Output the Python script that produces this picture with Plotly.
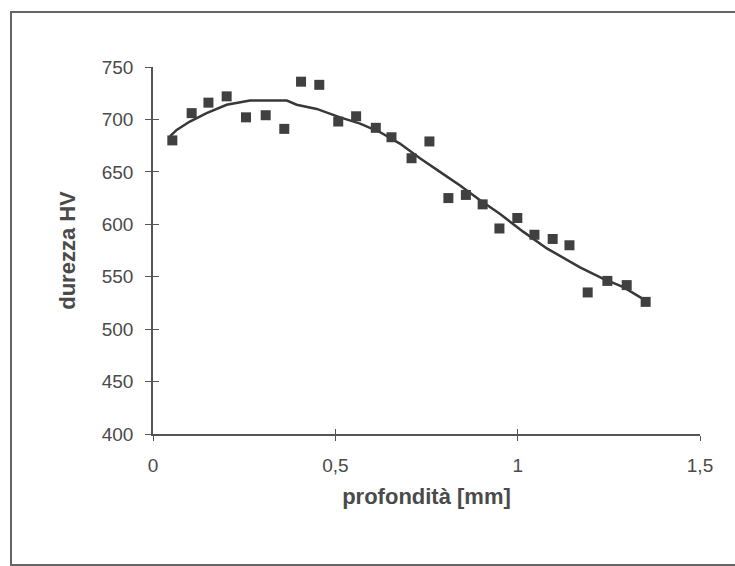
import plotly.graph_objects as go

# measured hardness points
depth_mm = [0.053, 0.106, 0.152, 0.202, 0.255, 0.309, 0.360, 0.406, 0.456, 0.508,
            0.557, 0.611, 0.654, 0.709, 0.758, 0.810, 0.858, 0.904, 0.950, 0.999,
            1.046, 1.096, 1.142, 1.192, 1.246, 1.299, 1.351]
hardness_hv = [680, 706, 716, 722, 702, 704, 691, 736, 733, 698,
               703, 692, 683, 663, 679, 625, 628, 619, 596, 606,
               590, 586, 580, 535, 546, 542, 526]

# trend curve
trend_x = [0.047, 0.065, 0.101, 0.147, 0.202, 0.266, 0.367, 0.394, 0.449, 0.513,
           0.568, 0.622, 0.677, 0.732, 0.787, 0.842, 0.897, 0.951, 1.015, 1.080,
           1.171, 1.235, 1.290, 1.357]
trend_y = [684, 690, 698, 706, 714, 718, 718, 714, 710, 702,
           696, 688, 677, 663, 650, 637, 623, 610, 593, 577,
           559, 548, 540, 526]

x_ticks = [0, 0.5, 1, 1.5]
y_ticks = [400, 450, 500, 550, 600, 650, 700, 750]

fig = go.Figure()
fig.add_trace(go.Scatter(x=trend_x, y=trend_y, mode="lines",
                         line=dict(color="#383838", width=2.5), showlegend=False))
fig.add_trace(go.Scatter(x=depth_mm, y=hardness_hv, mode="markers",
                         marker=dict(symbol="square", size=10, color="#404040"),
                         showlegend=False))

font_family = "Liberation Sans, Arial, sans-serif"
txt = "#4a4a4a"
axc = "#555"
fig.update_layout(
    width=735, height=566,
    margin=dict(l=153, r=35, t=67, b=132),
    paper_bgcolor="white", plot_bgcolor="white",
    separators=", ",
    font=dict(family=font_family, size=19, color=txt),
    xaxis=dict(range=[0, 1.5], tickvals=x_ticks, showgrid=False, zeroline=False,
               showline=True, linecolor=axc, linewidth=1.5,
               ticks="outside", ticklen=5, tickcolor=axc, tickwidth=1.2,
               ticklabelstandoff=8,
               title=dict(text="<b>profondità [mm]</b>", standoff=14,
                          font=dict(size=22, color=txt))),
    yaxis=dict(range=[400, 750], tickvals=y_ticks, showgrid=False, zeroline=False,
               showline=True, linecolor=axc, linewidth=1.5,
               ticks="outside", ticklen=6, tickcolor=axc, tickwidth=1.2,
               ticklabelstandoff=8,
               title=dict(text="<b>durezza HV</b>", standoff=20,
                          font=dict(size=22, color=txt))),
    # overlay axes that add the inner half of the crossing tick marks
    xaxis2=dict(range=[0, 1.5], tickvals=x_ticks, overlaying="x", side="bottom",
                anchor="y", showticklabels=False, showgrid=False, zeroline=False,
                ticks="inside", ticklen=5, tickcolor=axc, tickwidth=1.2),
    yaxis2=dict(range=[400, 750], tickvals=y_ticks, overlaying="y", side="left",
                anchor="x", showticklabels=False, showgrid=False, zeroline=False,
                ticks="inside", ticklen=6, tickcolor=axc, tickwidth=1.2),
    shapes=[dict(type="rect", xref="paper", yref="paper",
                 x0=(11 - 153) / 547, x1=(745 - 153) / 547,
                 y0=(434 - 565) / 367, y1=(434 - 12) / 367,
                 line=dict(color="#666", width=2), layer="below")],
)
# invisible trace to activate the overlay axes
fig.add_trace(go.Scatter(x=[None], y=[None], xaxis="x2", yaxis="y2",
                         showlegend=False, hoverinfo="skip"))

fig.write_html("out.html")
